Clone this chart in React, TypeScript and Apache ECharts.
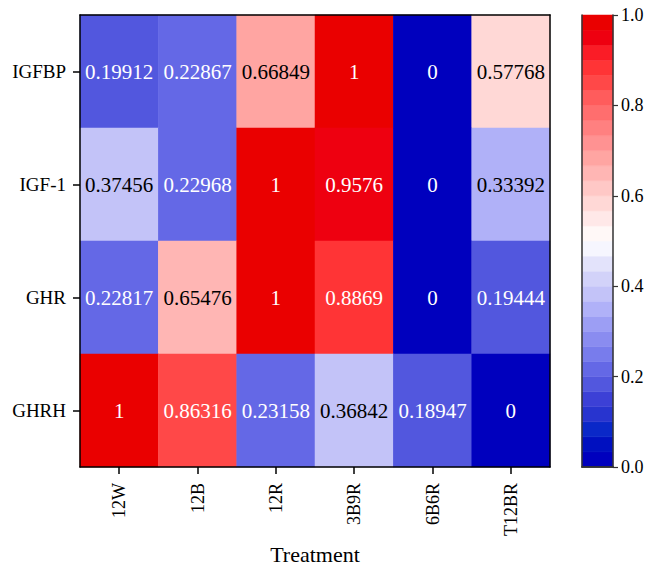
import React, { useEffect, useRef } from "react";
import * as echarts from "echarts";

const treatments = ["12W", "12B", "12R", "3B9R", "6B6R", "T12BR"];
const genes = ["IGFBP", "IGF-1", "GHR", "GHRH"];

const igfbp = [0.19912, 0.22867, 0.66849, 1, 0, 0.57768];
const igf1 = [0.37456, 0.22968, 1, 0.9576, 0, 0.33392];
const ghr = [0.22817, 0.65476, 1, 0.8869, 0, 0.19444];
const ghrh = [1, 0.86316, 0.23158, 0.36842, 0.18947, 0];

const colorbarTicks = [0, 0.2, 0.4, 0.6, 0.8, 1.0];

// 30-level blue-white-red palette (bottom to top)
const palette = [
  "#0000BE", "#0010C0", "#0A28C8", "#2834CF", "#3C40D6", "#5257DE",
  "#6468E6", "#787CEC", "#8A8CF0", "#9C9EF4", "#B0B1F8", "#C3C3F8",
  "#D2D2F9", "#E3E3FB", "#F6F6FE", "#FFF8F7", "#FFE8E8", "#FFD8D6",
  "#FFC8C6", "#FFB6B4", "#FFA5A2", "#FF9292", "#FF8080", "#FF6E6E",
  "#FF5C5C", "#FF4848", "#FF3436", "#FA1C26", "#EE0010", "#EA0000",
];

const FONT = "Times New Roman, Liberation Serif, serif";

function levelOf(v: number) {
  const n = palette.length;
  return Math.min(n - 1, Math.max(0, Math.floor(v * n + 1e-9)));
}

function lum(hex: string) {
  const c = [1, 3, 5].map((i) => parseInt(hex.slice(i, i + 2), 16) / 255).map((x) =>
    x <= 0.03928 ? x / 12.92 : Math.pow((x + 0.055) / 1.055, 2.4)
  );
  return 0.2126 * c[0] + 0.7152 * c[1] + 0.0722 * c[2];
}

export default function App() {
  const ref = useRef<HTMLDivElement>(null);
  useEffect(() => {
    document.body.style.margin = "0";
    const chart = echarts.init(ref.current!, undefined, { renderer: "svg" });
    const rows = [igfbp, igf1, ghr, ghrh];
    const data: any[] = [];
    rows.forEach((row, yi) =>
      row.forEach((v, xi) => {
        const col = palette[levelOf(v)];
        data.push({
          value: [xi, yi, v],
          label: { color: lum(col) > 0.408 ? "#000000" : "#ffffff" },
        });
      })
    );
    const n = palette.length;
    const barData = palette.map((_, i) => [0, i / n, (i + 1) / n, i]);
    const pieces = palette.map((c, i) =>
      i === n - 1 ? { gte: i / n, lte: 1, color: c } : { gte: i / n, lt: (i + 1) / n, color: c }
    );

    const blackLine = { show: true, lineStyle: { color: "#000", width: 1.5 } };
    const cbLine = { show: true, lineStyle: { color: "#333", width: 1.5 } };

    chart.setOption({
      animation: false,
      textStyle: { fontFamily: FONT },
      grid: [
        { left: 80, top: 15, width: 470, height: 452, containLabel: false, outerBoundsMode: "none" },
        { left: 582, top: 15, width: 31, height: 452, containLabel: false, outerBoundsMode: "none" },
      ],
      visualMap: {
        type: "piecewise",
        show: false,
        seriesIndex: 0,
        dimension: 2,
        pieces,
      },
      xAxis: [
        {
          type: "category",
          gridIndex: 0,
          data: treatments,
          position: "bottom",
          z: 10,
          axisLine: blackLine,
          axisTick: { show: true, alignWithLabel: true, length: 7, lineStyle: { color: "#000", width: 1.5 } },
          axisLabel: { rotate: 90, fontSize: 18, color: "#000", margin: 16, fontFamily: FONT },
          splitLine: { show: false },
          name: "Treatment",
          nameLocation: "middle",
          nameGap: 66,
          nameTextStyle: { fontSize: 22, color: "#000", fontFamily: FONT },
        },
        {
          type: "category",
          gridIndex: 0,
          data: treatments,
          position: "top",
          z: 10,
          axisLine: blackLine,
          axisTick: { show: false },
          axisLabel: { show: false },
        },
        {
          type: "category",
          gridIndex: 1,
          data: [""],
          position: "bottom",
          z: 10,
          axisLine: cbLine,
          axisTick: { show: false },
          axisLabel: { show: false },
        },
        {
          type: "category",
          gridIndex: 1,
          data: [""],
          position: "top",
          z: 10,
          axisLine: cbLine,
          axisTick: { show: false },
          axisLabel: { show: false },
        },
      ],
      yAxis: [
        {
          type: "category",
          gridIndex: 0,
          data: genes,
          inverse: true,
          position: "left",
          z: 10,
          axisLine: blackLine,
          axisTick: { show: true, alignWithLabel: true, length: 7, lineStyle: { color: "#000", width: 1.5 } },
          axisLabel: { fontSize: 19, color: "#000", margin: 14, fontFamily: FONT },
          splitLine: { show: false },
        },
        {
          type: "category",
          gridIndex: 0,
          data: genes,
          inverse: true,
          position: "right",
          z: 10,
          axisLine: blackLine,
          axisTick: { show: false },
          axisLabel: { show: false },
        },
        {
          type: "value",
          gridIndex: 1,
          min: 0,
          max: 1,
          interval: 0.2,
          position: "left",
          z: 10,
          axisLine: cbLine,
          axisTick: { show: false },
          axisLabel: { show: false },
          splitLine: { show: false },
        },
        {
          type: "value",
          gridIndex: 1,
          min: 0,
          max: 1,
          interval: 0.2,
          position: "right",
          z: 10,
          axisLine: cbLine,
          axisTick: { show: true, length: 5, lineStyle: { color: "#333", width: 1.2 } },
          axisLabel: {
            fontSize: 18,
            color: "#000",
            margin: 8,
            fontFamily: FONT,
            formatter: (v: number) => (colorbarTicks.includes(+v.toFixed(1)) ? v.toFixed(1) : ""),
          },
          splitLine: { show: false },
        },
      ],
      series: [
        {
          type: "heatmap",
          xAxisIndex: 0,
          yAxisIndex: 0,
          data,
          label: {
            show: true,
            fontSize: 21,
            fontFamily: FONT,
            formatter: (p: any) => String(p.value[2]),
          },
          emphasis: { disabled: true },
        },
        {
          type: "custom",
          xAxisIndex: 2,
          yAxisIndex: 2,
          data: barData,
          encode: { x: 0, y: [1, 2] },
          renderItem: (params: any, api: any) => {
            const lo = api.value(1);
            const hi = api.value(2);
            const idx = api.value(3);
            const p0 = api.coord([0, lo]);
            const p1 = api.coord([0, hi]);
            const w = api.size([1, 0])[0];
            return {
              type: "rect",
              shape: { x: p0[0] - w / 2, y: p1[1], width: w, height: p0[1] - p1[1] },
              style: { fill: palette[idx], stroke: palette[idx], lineWidth: 0.5 },
            };
          },
        },
      ],
    });
    return () => chart.dispose();
  }, []);
  return <div ref={ref} style={{ width: 653, height: 564 }} />;
}
